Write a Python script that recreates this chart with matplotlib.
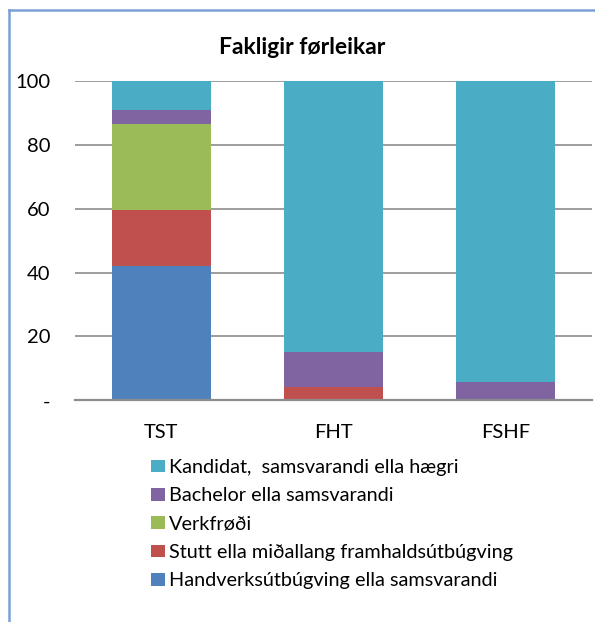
import matplotlib
matplotlib.use("Agg")
import matplotlib.pyplot as plt
from matplotlib.lines import Line2D
import numpy as np

categories = ["TST", "FHT", "FSHF"]
series_names = [
    "Handverksútbúgving ella samsvarandi",
    "Stutt ella miðallang framhaldsútbúgving",
    "Verkfrøði",
    "Bachelor ella samsvarandi",
    "Kandidat,  samsvarandi ella hægri",
]
handverk = [42.2, 0.0, 0.0]
stutt = [17.5, 4.1, 0.0]
verkfrodi = [26.9, 0.0, 0.0]
bachelor = [4.3, 11.1, 5.6]
kandidat = [9.1, 84.8, 94.4]
series_values = [handverk, stutt, verkfrodi, bachelor, kandidat]
colors = ["#4F81BD", "#C0504D", "#9BBB59", "#8064A2", "#4BACC6"]
yticks = [0, 20, 40, 60, 80, 100]
ytick_labels = ["-", "20", "40", "60", "80", "100"]

plt.rcParams['font.family'] = ['Lato', 'DejaVu Sans']

W, H = 595, 622
fig = plt.figure(figsize=(W / 100, H / 100), dpi=100)
ax = fig.add_axes([75 / W, 1 - 400.3 / H, (592 - 75) / W, (400.3 - 81) / H])

x = np.arange(len(categories))
bottom = np.zeros(len(categories))
handles = []
for name, vals, c in zip(series_names, series_values, colors):
    vals = np.array(vals)
    b = ax.bar(x, vals, width=0.575, bottom=bottom, color=c, linewidth=0, label=name, zorder=3)
    handles.append(b)
    bottom += vals

ax.set_xlim(-0.5, 2.5)
ax.set_ylim(0, 100)
ax.set_yticks(yticks)
ax.set_yticklabels(ytick_labels)
ax.yaxis.grid(True, color="#8c8c8c", linewidth=1.2, zorder=0)
ax.set_xticks(x)
ax.set_xticklabels(categories)
ax.tick_params(axis="y", length=0, pad=18, labelsize=14.5, colors="#000000")
ax.tick_params(axis="x", length=0, pad=17, labelsize=14.5)
for s in ["top", "right", "left"]:
    ax.spines[s].set_visible(False)
ax.spines["bottom"].set_color("#8c8c8c")
ax.spines["bottom"].set_linewidth(1.6)
ax.spines["bottom"].set_zorder(4)

fig.text(302 / W, 1 - 47 / H, "Fakligir førleikar", ha="center", va="center",
         fontsize=16.5, fontweight="bold")

leg = fig.legend(handles[::-1], series_names[::-1], loc="upper left",
                 bbox_to_anchor=(151 / W, 1 - 459 / H), frameon=False,
                 fontsize=14.3, handlelength=0.7, handleheight=0.6,
                 handletextpad=0.2, labelspacing=0.57, borderaxespad=0, borderpad=0)

border_c = "#7aa0d4"
fig.add_artist(Line2D([9 / W, 9 / W], [0, 1 - 10 / H], color=border_c, linewidth=1.8, transform=fig.transFigure))
fig.add_artist(Line2D([9 / W, 1], [1 - 10 / H, 1 - 10 / H], color=border_c, linewidth=1.8, transform=fig.transFigure))

fig.savefig("out.png", dpi=100)
